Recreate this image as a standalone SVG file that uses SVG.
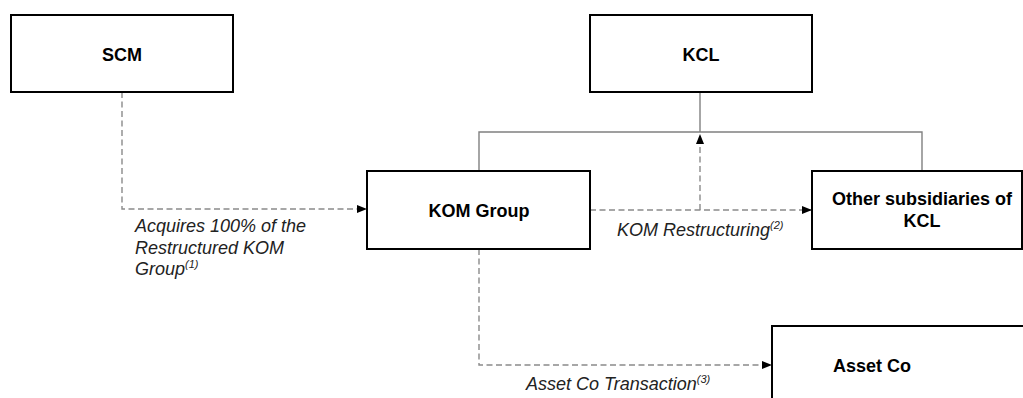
<svg xmlns="http://www.w3.org/2000/svg" width="1023" height="398" viewBox="0 0 1023 398">
<style>
.box{fill:#fff;stroke:#000;stroke-width:2}
.lbl{font-family:"Liberation Sans",Arial,sans-serif;font-size:18px;font-weight:bold;fill:#000;text-anchor:middle}
.it{font-family:"Liberation Sans",Arial,sans-serif;font-size:18px;font-style:italic;fill:#222}
.sup{font-size:11px}
.solid{fill:none;stroke:#808080;stroke-width:1.4}
.dash{fill:none;stroke:#8a8a8a;stroke-width:1.4;stroke-dasharray:6 3.5}
</style>
<defs>
<marker id="arr" viewBox="0 0 10 8" refX="10" refY="4" markerWidth="10" markerHeight="8" markerUnits="userSpaceOnUse" orient="auto">
<path d="M0 0 L10 4 L0 8 Z" fill="#000"/>
</marker>
</defs>
<rect width="1023" height="398" fill="#fff"/>
<g id="connectors">
<path class="solid" d="M479 171 V132 H922 V171"/>
<path class="solid" d="M700 92 V132"/>
<path class="dash" d="M122 92 V209 H367" marker-end="url(#arr)"/>
<path class="dash" d="M590 210 H812" marker-end="url(#arr)"/>
<path class="dash" d="M700 210 V134" marker-end="url(#arr)"/>
<path class="dash" d="M479 249 V365 H772" marker-end="url(#arr)"/>
</g>
<g id="scm">
<rect class="box" x="11" y="15" width="222" height="77"/>
<text class="lbl" x="122" y="61">SCM</text>
</g>
<g id="kcl">
<rect class="box" x="590" y="15" width="222" height="77"/>
<text class="lbl" x="701" y="61">KCL</text>
</g>
<g id="kom">
<rect class="box" x="367" y="171" width="223" height="78"/>
<text class="lbl" x="479" y="217">KOM Group</text>
</g>
<g id="other">
<rect class="box" x="812" y="171" width="210" height="78"/>
<text class="lbl" x="922" y="205">Other subsidiaries of</text>
<text class="lbl" x="922" y="227">KCL</text>
</g>
<g id="assetco">
<rect class="box" x="772" y="326" width="260" height="80"/>
<text class="lbl" x="872" y="372">Asset Co</text>
</g>
<g id="labels">
<text class="it" x="135" y="232">Acquires 100% of the</text>
<text class="it" x="135" y="254">Restructured KOM</text>
<text class="it" x="135" y="275">Group<tspan class="sup" dy="-7">(1)</tspan></text>
<text class="it" x="617" y="236">KOM Restructuring<tspan class="sup" dy="-7">(2)</tspan></text>
<text class="it" x="526" y="390">Asset Co Transaction<tspan class="sup" dy="-7">(3)</tspan></text>
</g>
</svg>
